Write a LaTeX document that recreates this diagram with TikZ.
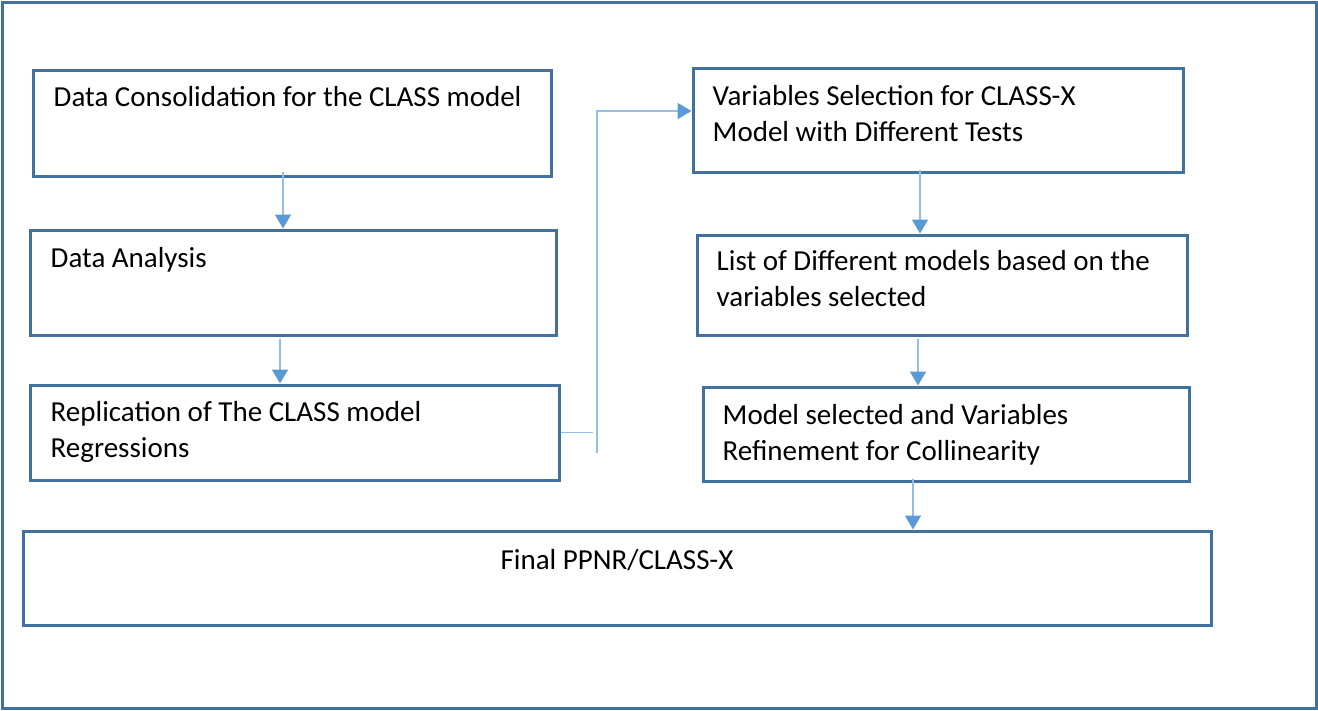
\documentclass[tikz,border=0pt]{standalone}
\usepackage{fontspec}
\setmainfont{Carlito}
\usepackage{xcolor}
\usetikzlibrary{arrows.meta,positioning}
\definecolor{boxblue}{RGB}{65,113,156}
\definecolor{linkblue}{RGB}{91,155,213}
\tikzset{
  stepbox/.style={draw=boxblue, line width=3pt, inner sep=0pt},
  steptxt/.style={inner sep=0pt, align=left, font=\fontsize{29}{36}\selectfont},
  link/.style={draw=linkblue!65!white, line width=1.8pt},
  arrow/.style={link, -{Triangle[length=14pt,width=16pt,color=linkblue]}}
}
\begin{document}
\begin{tikzpicture}[x=1pt,y=-1pt]
  \useasboundingbox (0,0) rectangle (1318,710);
  % outer frame
  \draw[boxblue, line width=3pt] (2,2) rectangle (1316,708);

  % --- left column ---
  \node[stepbox, minimum width=518pt, minimum height=106pt] (b1) at (292,123) {};
  \node[steptxt, below right=18pt and 22pt of b1.north west] (t1) {Data Consolidation for the CLASS model};
  \node[stepbox, minimum width=526pt, minimum height=105pt] (b2) at (293,282.5) {};
  \node[steptxt, below right=19pt and 22pt of b2.north west] (t2) {Data Analysis};
  \node[stepbox, minimum width=529pt, minimum height=95pt] (b3) at (294.5,432.5) {};
  \node[steptxt, below right=18pt and 22pt of b3.north west] (t3) {Replication of The CLASS model\\Regressions};
  \draw[arrow] ([xshift=-9pt,yshift=6pt]b1.south) -- ([xshift=-9pt]b1.south |- b2.north);
  \draw[arrow] ([xshift=-13pt,yshift=-2pt]b2.south) -- ([xshift=-13pt]b2.south |- b3.north);

  % --- right column ---
  \node[stepbox, minimum width=490pt, minimum height=104pt] (b4) at (938,120) {};
  \node[steptxt, below right=19pt and 21pt of b4.north west] (t4) {Variables Selection for CLASS-X\\Model with Different Tests};
  \node[stepbox, minimum width=490pt, minimum height=100pt] (b5) at (942,285) {};
  \node[steptxt, below right=17pt and 21pt of b5.north west] (t5) {List of Different models based on the\\variables selected};
  \node[stepbox, minimum width=486pt, minimum height=94pt] (b6) at (946,434) {};
  \node[steptxt, below right=19pt and 21pt of b6.north west] (t6) {Model selected and Variables\\Refinement for Collinearity};
  \draw[arrow] ([xshift=-18pt,yshift=4pt]b4.south) -- ([xshift=-18pt]b4.south |- b5.north);
  \draw[arrow] ([xshift=-24pt,yshift=-2pt]b5.south) -- ([xshift=-24pt]b5.south |- b6.north);

  % --- final box ---
  \node[stepbox, minimum width=1188pt, minimum height=94pt] (b7) at (617,578) {};
  \node[steptxt, below=20pt of b7.north] (t7) {Final PPNR/CLASS-X};
  \draw[arrow] ([xshift=-33pt,yshift=4pt]b6.south) -- ([xshift=-33pt]b6.south |- b7.north);

  % link left -> right
  \coordinate (jA) at (593,432.5);
  \coordinate (jB) at (597,453);
  \draw[link] (b3.east) -- (jA);
  \draw[arrow] (jB) -- ([yshift=9pt]b4.west -| jB) -- ([yshift=9pt]b4.west);
\end{tikzpicture}
\end{document}
